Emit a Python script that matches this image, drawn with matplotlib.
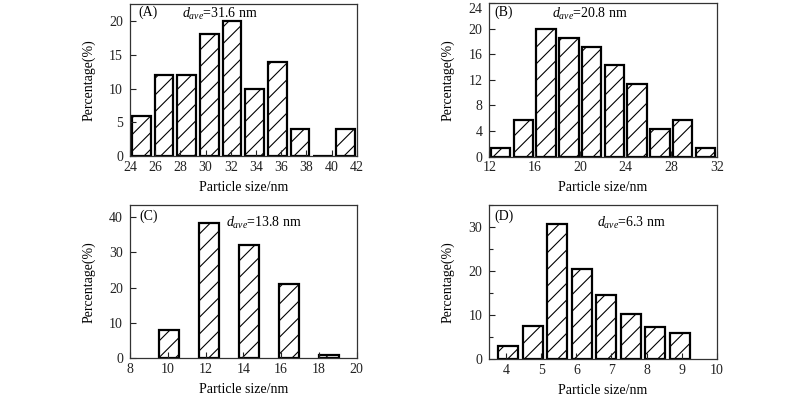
import matplotlib
matplotlib.use("Agg")
import matplotlib.pyplot as plt
from matplotlib.ticker import MultipleLocator

plt.rcParams['font.family'] = ['Liberation Serif', 'DejaVu Serif']
plt.rcParams['mathtext.fontset'] = 'custom'
plt.rcParams['mathtext.rm'] = 'Liberation Serif'
plt.rcParams['mathtext.it'] = 'Liberation Serif:italic'
plt.rcParams['hatch.linewidth'] = 0.8

# Panel A
a_centers = [24.9, 26.7, 28.5, 30.3, 32.1, 33.9, 35.7, 37.5, 39.3, 41.1]
a_values = [6, 12, 12, 18, 20, 10, 14, 4, 0, 4]
a_xticks = [24, 26, 28, 30, 32, 34, 36, 38, 40, 42]
a_yticks = [0, 5, 10, 15, 20]
# Panel B
b_centers = [13, 15, 17, 19, 21, 23, 25, 27, 29, 31]
b_values = [1.4, 5.7, 20.0, 18.6, 17.1, 14.3, 11.4, 4.3, 5.7, 1.4]
b_xticks = [12, 16, 20, 24, 28, 32]
b_yticks = [0, 4, 8, 12, 16, 20, 24]
# Panel C
c_centers = [10.07, 12.17, 14.3, 16.4, 18.53]
c_values = [8.0, 38.1, 32.1, 20.9, 0.85]
c_xticks = [8, 10, 12, 14, 16, 18, 20]
c_yticks = [0, 10, 20, 30, 40]
# Panel D
d_centers = [4.06, 4.77, 5.46, 6.15, 6.85, 7.55, 8.24, 8.94]
d_values = [3.0, 7.5, 30.8, 20.6, 14.6, 10.2, 7.3, 6.0]
d_xticks = [4, 5, 6, 7, 8, 9, 10]
d_yticks = [0, 10, 20, 30]

labels = ["(A)", "(B)", "(C)", "(D)"]
dave = ["31.6", "20.8", "13.8", "6.3"]

fig = plt.figure(figsize=(8, 3.98), dpi=100)

panels = [
    dict(rect=[0.1625, 0.6073, 0.2834, 0.3827], c=a_centers, v=a_values, w=1.48,
         xl=(24, 42), yl=(0, 22.5), xt=a_xticks, yt=a_yticks, minor=None,
         lab=(0.035, 0.947), dv=(0.228, 0.934)),
    dict(rect=[0.6116, 0.6065, 0.2843, 0.3860], c=b_centers, v=b_values, w=1.7,
         xl=(12, 32), yl=(0, 24), xt=b_xticks, yt=b_yticks, minor=None,
         lab=(0.021, 0.937), dv=(0.274, 0.928)),
    dict(rect=[0.1625, 0.0997, 0.2834, 0.3850], c=c_centers, v=c_values, w=1.06,
         xl=(8, 20), yl=(0, 43.3), xt=c_xticks, yt=c_yticks, minor=None,
         lab=(0.041, 0.924), dv=(0.422, 0.885)),
    dict(rect=[0.6116, 0.0980, 0.2843, 0.3870], c=d_centers, v=d_values, w=0.57,
         xl=(3.52, 10), yl=(0, 35.1), xt=d_xticks, yt=d_yticks, minor=5,
         lab=(0.021, 0.929), dv=(0.472, 0.885)),
]

for i, p in enumerate(panels):
    ax = fig.add_axes(p['rect'])
    ax.bar(p['c'], p['v'], width=p['w'], facecolor='white', edgecolor='black',
           linewidth=1.6, hatch='//', zorder=1)
    ax.set_xlim(*p['xl'])
    ax.set_ylim(*p['yl'])
    ax.set_xticks(p['xt'])
    ax.set_yticks(p['yt'])
    if p['minor']:
        ax.yaxis.set_minor_locator(MultipleLocator(p['minor']))
    ax.tick_params(axis='both', which='major', direction='in', length=4, width=0.8,
                   labelsize=10, top=False, right=False, colors='#222222')
    ax.tick_params(axis='x', which='major', pad=3.5)
    ax.tick_params(axis='y', which='major', pad=5)
    ax.tick_params(axis='y', which='minor', direction='in', length=3, width=0.8,
                   color='#222222')
    ax.tick_params(axis='x', which='minor', bottom=False)
    for s in ax.spines.values():
        s.set_linewidth(0.9)
        s.set_color('#333333')
    ax.set_xlabel("Particle size/nm", fontsize=10, labelpad=5)
    ax.set_ylabel("Percentage(%)", fontsize=10, labelpad=10)
    ax.text(p['lab'][0], p['lab'][1], labels[i], transform=ax.transAxes,
            fontsize=10, ha='left', va='center')
    ax.text(p['dv'][0], p['dv'][1], r"$d_{ave}$=" + dave[i] + " nm",
            transform=ax.transAxes, fontsize=10, ha='left', va='center')
    if i == 1:
        fig.canvas.draw()
        ax.get_yticklabels()[-1].set_verticalalignment('top')

fig.savefig("out.png", dpi=100)
